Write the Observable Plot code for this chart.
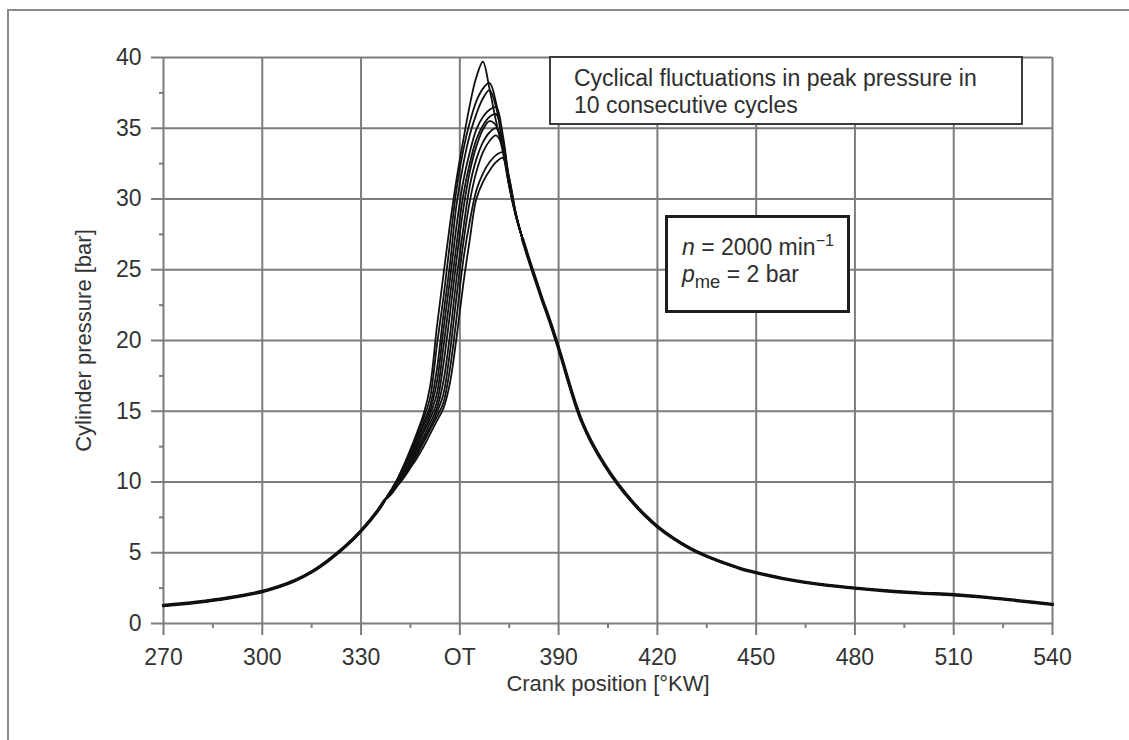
<!DOCTYPE html>
<html>
<head>
<meta charset="utf-8">
<script src="https://cdn.jsdelivr.net/npm/d3@7"></script>
<script src="https://cdn.jsdelivr.net/npm/@observablehq/plot@0.6"></script>
<style>
  html, body { margin: 0; padding: 0; background: #fff; }
  #wrap { position: relative; width: 1129px; height: 740px; overflow: hidden; background: #fff;
          font-family: "Liberation Sans", Arial, Helvetica, sans-serif; color: #333; }
  #outer { position: absolute; left: 7px; top: 9px; width: 1200px; height: 800px;
           border-left: 2px solid #8c8c8c; border-top: 2px solid #8c8c8c; }
  #chart { position: absolute; left: 0; top: 0; }
  .box { position: absolute; background: #fff; box-sizing: border-box; font-size: 23px; line-height: 27px; color: #2e2e2e; }
  #box1 { left: 549px; top: 56px; width: 474px; height: 69px; border: 2px solid #3c3c3c; padding: 7px 0 0 23px; }
  #box2 { left: 665px; top: 215px; width: 185px; height: 98px; border: 3px solid #1e1e1e; padding: 16px 0 0 14px; }
  .sup { font-size: 0.7em; position: relative; top: -0.55em; line-height: 0; }
  .sub { font-size: 0.8em; position: relative; top: 0.3em; line-height: 0; }
</style>
</head>
<body>
<div id="wrap">
  <div id="outer"></div>
  <div id="chart"></div>
  <div class="box" id="box1">Cyclical fluctuations in peak pressure in<br>10 consecutive cycles</div>
  <div class="box" id="box2"><i>n</i> = 2000 min<span class="sup">−1</span><br><i>p</i><span class="sub">me</span> = 2 bar</div>
</div>
<script>
// ---- Data ----
// Shared compression stroke (crank angle °KW, pressure bar)
const compAngle = [270, 280, 290, 300, 305, 310, 315, 320, 325, 330, 335, 337];
const compP     = [1.27, 1.5, 1.82, 2.26, 2.6, 3.05, 3.65, 4.45, 5.4, 6.55, 7.95, 8.65];

// Crank angles where the 10 cycles differ
const cycAngle = [339, 341, 343, 345, 347, 349, 351, 353, 355, 357, 359, 361, 363, 365, 367, 369, 371, 373, 375, 377];
const cycle1  = [9.4, 10.2, 11.2, 12.3, 13.5, 14.8, 16.8, 20.9, 24.6, 28.2, 31.4, 34.1, 36.6, 38.6, 39.7, 37.8, 35.5, 33.4, 30.9, 28.9];
const cycle2  = [9.35, 10.15, 11.1, 12.15, 13.3, 14.5, 16.0, 19.6, 23.0, 26.9, 30.7, 33.4, 35.4, 36.9, 37.8, 38.2, 36.8, 34.0, 31.0, 28.9];
const cycle3  = [9.3, 10.1, 11.0, 12.0, 13.1, 14.2, 15.4, 17.9, 21.8, 25.4, 29.6, 32.4, 34.5, 36.0, 37.1, 37.7, 36.5, 33.8, 30.9, 28.8];
const cycle4  = [9.3, 10.05, 10.9, 11.85, 12.9, 14.0, 15.1, 17.0, 20.7, 24.3, 28.1, 31.2, 33.3, 34.9, 35.8, 36.3, 36.5, 34.6, 31.3, 28.9];
const cycle5  = [9.25, 10.0, 10.8, 11.7, 12.7, 13.7, 14.8, 16.2, 19.5, 23.1, 26.8, 30.2, 32.5, 34.2, 35.2, 35.8, 36.0, 34.3, 31.2, 28.9];
const cycle6  = [9.2, 9.95, 10.7, 11.55, 12.5, 13.5, 14.5, 15.6, 18.3, 21.9, 25.7, 29.2, 31.9, 33.7, 34.9, 35.5, 35.2, 33.7, 31.0, 28.8];
const cycle7  = [9.2, 9.9, 10.6, 11.4, 12.3, 13.2, 14.2, 15.2, 17.1, 20.4, 24.4, 27.8, 30.9, 32.8, 34.0, 34.7, 35.0, 33.9, 31.1, 28.9];
const cycle8  = [9.15, 9.85, 10.5, 11.25, 12.1, 13.0, 13.9, 14.9, 16.2, 19.2, 23.1, 26.8, 29.8, 31.9, 33.3, 34.1, 34.5, 33.7, 31.2, 28.9];
const cycle9  = [9.1, 9.8, 10.4, 11.1, 11.9, 12.8, 13.7, 14.6, 15.6, 18.0, 21.6, 25.6, 28.4, 30.6, 31.8, 32.6, 33.1, 33.3, 31.5, 29.0];
const cycle10 = [9.1, 9.7, 10.3, 11.0, 11.7, 12.5, 13.4, 14.3, 15.2, 17.0, 20.2, 23.9, 27.1, 30.0, 31.2, 32.0, 32.6, 32.9, 31.4, 29.0];
const cycles = [cycle1, cycle2, cycle3, cycle4, cycle5, cycle6, cycle7, cycle8, cycle9, cycle10];

// Shared expansion stroke
const expAngle = [379, 381, 383, 385, 387, 389, 391, 393, 395, 397, 400, 404, 408, 412, 416, 420, 425, 430, 435, 440, 445, 450, 460, 470, 480, 490, 500, 510, 520, 530, 540];
const expP     = [27.2, 25.7, 24.3, 22.9, 21.6, 20.2, 18.7, 17.1, 15.6, 14.3, 12.8, 11.2, 9.85, 8.7, 7.7, 6.85, 6.0, 5.3, 4.75, 4.3, 3.9, 3.6, 3.1, 2.75, 2.5, 2.3, 2.15, 2.03, 1.85, 1.6, 1.35];

// Axes
const xTicks = [270, 300, 330, 360, 390, 420, 450, 480, 510, 540];
const xTickLabels = ["270", "300", "330", "OT", "390", "420", "450", "480", "510", "540"];
const xMinor = [285, 315, 345, 375, 405, 435, 465, 495, 525];
const yTicks = [0, 5, 10, 15, 20, 25, 30, 35, 40];
const yMinor = [2.5, 7.5, 12.5, 17.5, 22.5, 27.5, 32.5, 37.5];

// ---- Build tables ----
const rows = [];
cycles.forEach((vals, c) => {
  compAngle.forEach((a, i) => rows.push({cycle: c, angle: a, p: compP[i]}));
  cycAngle.forEach((a, i) => rows.push({cycle: c, angle: a, p: vals[i]}));
  expAngle.forEach((a, i) => rows.push({cycle: c, angle: a, p: expP[i]}));
});
const comp = compAngle.map((a, i) => ({angle: a, p: compP[i]}));
const exp = expAngle.map((a, i) => ({angle: a, p: expP[i]}));

const gridColor = "#7d7d7d";
const font = "Liberation Sans, Arial, Helvetica, sans-serif";

const chart = Plot.plot({
  width: 1129,
  height: 710,
  marginLeft: 163,
  marginRight: 77,
  marginTop: 57,
  marginBottom: 87,
  style: {fontFamily: font, fontSize: "22px", color: "#333", background: "transparent"},
  x: {domain: [270, 540]},
  y: {domain: [0, 40]},
  marks: [
    Plot.ruleY(yTicks, {stroke: gridColor, strokeWidth: 2, insetLeft: -12}),
    Plot.ruleX(xTicks, {stroke: gridColor, strokeWidth: 2, insetBottom: -12}),
    Plot.ruleX(xMinor, {y1: 0, y2: 0, insetBottom: -5, stroke: gridColor, strokeWidth: 2}),
    Plot.ruleY(yMinor, {x1: 270, x2: 270, insetLeft: -4, stroke: gridColor, strokeWidth: 2}),
    Plot.axisX(xTicks, {tickSize: 0, tickPadding: 25, tickFormat: (d) => xTickLabels[xTicks.indexOf(d)], fontSize: 23, fill: "#333", label: null}),
    Plot.axisY(yTicks, {tickSize: 0, tickPadding: 22, fontSize: 23, fill: "#333", label: null}),
    Plot.text(["Crank position [°KW]"], {frameAnchor: "bottom", textAnchor: "middle", dy: 67, fontSize: 22, fill: "#333"}),
    Plot.text(["Cylinder pressure [bar]"], {frameAnchor: "left", textAnchor: "middle", rotate: -90, dx: -80, fontSize: 22, fill: "#333"}),
    Plot.line(comp, {x: "angle", y: "p", stroke: "#111", strokeWidth: 3.4, curve: "catmull-rom"}),
    Plot.line(exp, {x: "angle", y: "p", stroke: "#111", strokeWidth: 3.4, curve: "catmull-rom"}),
    Plot.line(rows, {x: "angle", y: "p", z: "cycle", stroke: "#111", strokeWidth: 1.8, curve: "catmull-rom"})
  ]
});
document.getElementById("chart").appendChild(chart);
</script>
</body>
</html>
